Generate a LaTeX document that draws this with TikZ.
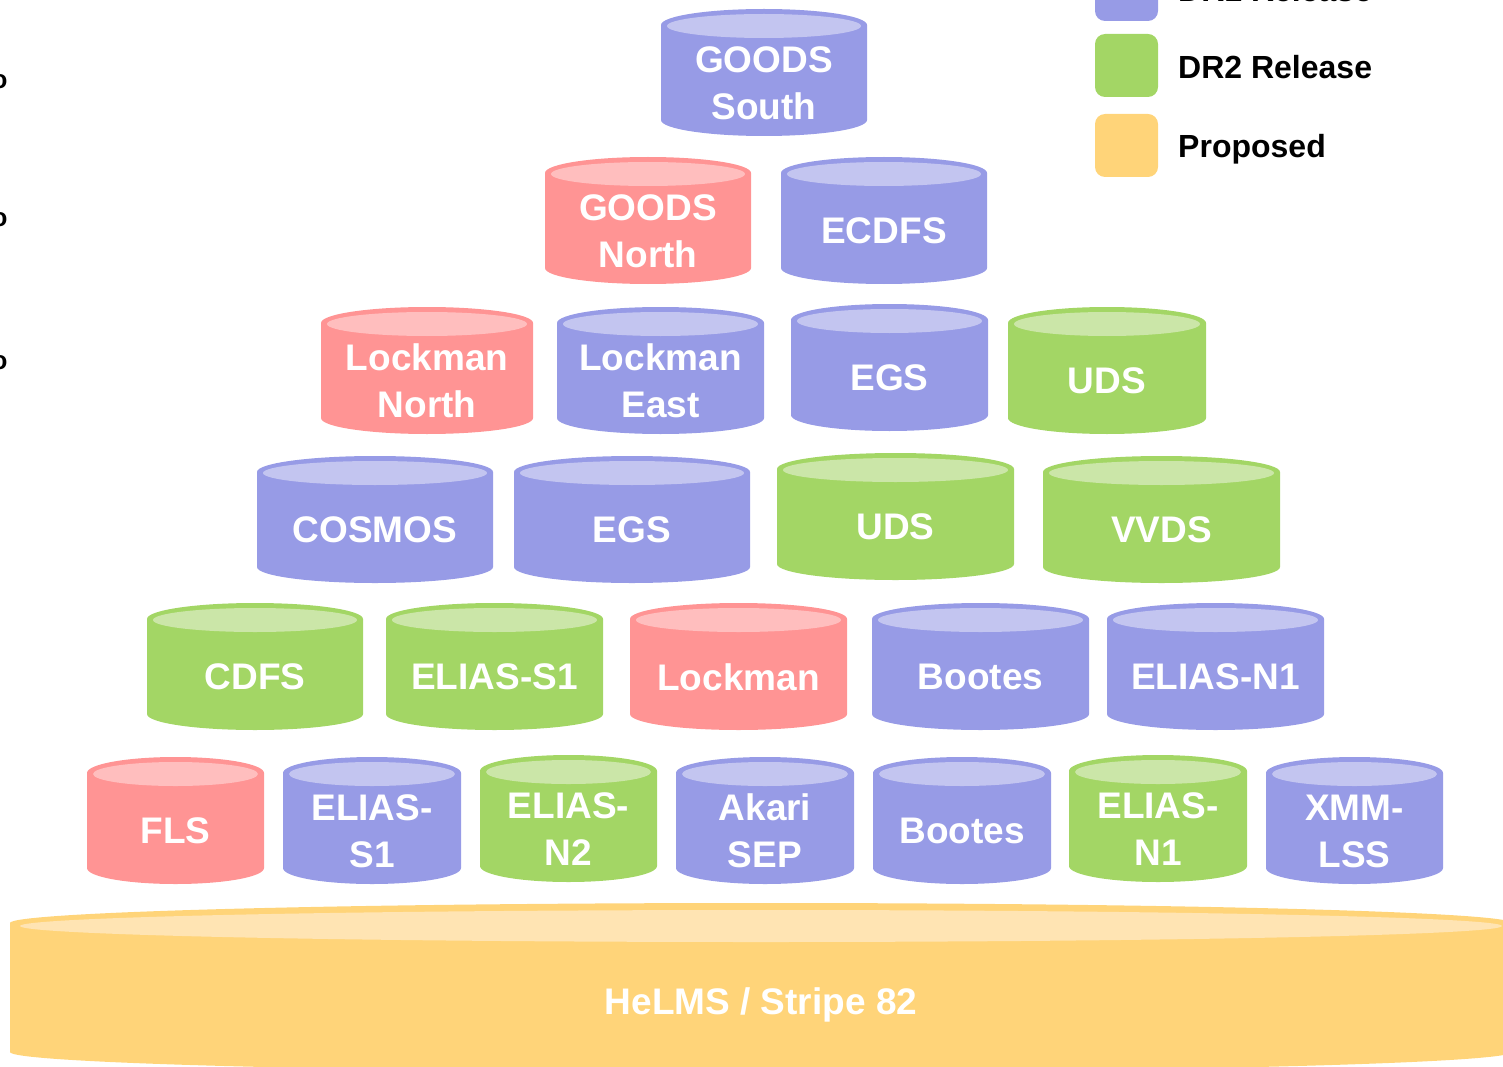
\documentclass[tikz,border=0pt]{standalone}
\usepackage{fontspec}
\setmainfont{Liberation Sans}

\definecolor{fieldblue}{RGB}{151,155,230}
\definecolor{fieldbluetop}{RGB}{195,197,240}
\definecolor{fieldred}{RGB}{255,148,148}
\definecolor{fieldredtop}{RGB}{255,190,190}
\definecolor{fieldgreen}{RGB}{163,214,101}
\definecolor{fieldgreentop}{RGB}{203,230,168}
\definecolor{fieldyellow}{RGB}{255,212,121}
\definecolor{fieldyellowtop}{RGB}{255,228,179}

\begin{document}
\begin{tikzpicture}[x=1pt, y=-1pt,
    label text/.style={font=\fontsize{37}{47}\selectfont\bfseries, text=white, align=center, inner sep=0pt},
    key box/.style={minimum size=63pt, rounded corners=10pt, inner sep=0pt},
    key text/.style={font=\fontsize{32}{38}\selectfont\bfseries, anchor=base west, inner sep=0pt},
    bullet/.style={font=\fontsize{26}{26}\selectfont\bfseries, inner sep=0pt}]

        % Page frame
        \useasboundingbox (0,0) rectangle (1503,1067);
        \clip (0,0) rectangle (1503,1067);

        % One field as a can: name, left, top, width, colour, label
        \newcommand{\field}[6]{
            \pgfmathsetmacro{\halfw}{#4/2}
            \fill[field#5] (#2,#3+16) arc[start angle=180, end angle=360, x radius=\halfw, y radius=16]
                -- ++(0,95) arc[start angle=0, end angle=180, x radius=\halfw, y radius=16] -- cycle;
            \fill[field#5top] (#2+\halfw,#3+17) ellipse[x radius=\halfw-6, y radius=12];
            \node[label text] (#1) at (#2+\halfw,#3+74) {#6};
        }

        % Fields, top row first
        \foreach \nm/\lx/\ty/\cw/\col/\txt in {
                gsouth/661/9/206/blue/{GOODS\\South},
                gnorth/545/157/206/red/{GOODS\\North},
                ecdfs/781/157/206/blue/ECDFS,
                lnorth/321/307/212/red/{Lockman\\North},
                least/557/307/207/blue/{Lockman\\East},
                egsA/791/304/197/blue/EGS,
                udsA/1008/307/198/green/UDS,
                cosmos/257/456/236/blue/COSMOS,
                egsB/514/456/236/blue/EGS,
                udsB/777/453/237/green/UDS,
                vvds/1043/456/237/green/VVDS,
                cdfs/147/603/216/green/CDFS,
                eliasSA/386/603/217/green/ELIAS-S1,
                lockman/630/603/217/red/Lockman,
                bootesA/872/603/217/blue/Bootes,
                eliasNA/1107/603/217/blue/ELIAS-N1,
                fls/87/757/177/red/FLS,
                eliasSB/283/757/178/blue/{ELIAS-\\S1},
                eliasNC/480/755/177/green/{ELIAS-\\N2},
                akari/676/757/178/blue/{Akari\\SEP},
                bootesB/873/757/178/blue/Bootes,
                eliasNB/1069/755/178/green/{ELIAS-\\N1},
                xmm/1266/757/177/blue/{XMM-\\LSS}}
            \field{\nm}{\lx}{\ty}{\cw}{\col}{\txt};

        % Wide base field
        \fill[fieldyellow] (10,923) arc[start angle=180, end angle=360, x radius=751, y radius=20]
            -- (1512,1052) arc[start angle=0, end angle=180, x radius=751, y radius=20] -- cycle;
        \fill[fieldyellowtop] (761,926) ellipse[x radius=741, y radius=16];
        \node[label text, anchor=base] (helms) at (761,1014) {HeLMS / Stripe 82};

        % Legend
        \node[key box, fill=fieldblue] (dr1box) at (1126.5,-10.5) {};
        \node[key box, fill=fieldgreen] (dr2box) at (1126.5,65.5) {};
        \node[key box, fill=fieldyellow] (propbox) at (1126.5,145.5) {};
        \node[key text] (dr1) at (1178,2) {DR1 Release};
        \node[key text] (dr2) at (1178,79) {DR2 Release};
        \node[key text] (prop) at (1178,158) {Proposed};

        % List bullets at the left edge
        \foreach \i/\yy in {A/82, B/220, C/363}
            \node[bullet] (bullet\i) at (-0.5,\yy) {o};

\end{tikzpicture}
\end{document}
